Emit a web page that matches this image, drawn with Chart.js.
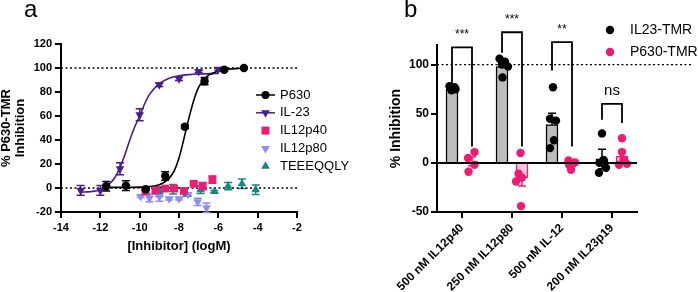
<!DOCTYPE html>
<html>
<head>
<meta charset="utf-8">
<script src="https://cdn.jsdelivr.net/npm/chart.js@4.4.0/dist/chart.umd.min.js"></script>
<style>
  body { margin:0; width:698px; height:292px; background:#fff; position:relative; overflow:hidden; font-family:"Liberation Sans", Arial, sans-serif; }
  .panel { position:absolute; top:0; height:292px; }
  #wrapA { left:0; width:360px; }
  #wrapB { left:370px; width:328px; }
  .tag { position:absolute; top:-5px; font-size:24px; color:#000; z-index:2; }
</style>
</head>
<body>
<div class="panel" id="wrapA"><canvas id="chartA" width="360" height="292"></canvas></div>
<div class="panel" id="wrapB"><canvas id="chartB" width="328" height="292"></canvas></div>
<div class="tag" style="left:24px">a</div>
<div class="tag" style="left:404px">b</div>
<script>
// ---- panel a data ----
const p630X = [-11.7, -10.7, -9.7, -8.7, -7.7, -6.7, -5.7, -4.7];
const p630Y = [1.5, 2, -1, 10, 51, 89, 98.5, 100];
const p630Err = [4, 4, 1, 3.5, 1.5, 3, 1, 0.5];
const p630CurveX = [-11.7, -11, -10, -9.5, -9, -8.75, -8.5, -8.25, -8, -7.75, -7.5, -7.25, -7, -6.75, -6.5, -6, -5.5, -5, -4.7];
const p630CurveY = [0.5, 0.5, 0.7, 1.2, 2.8, 4.8, 8, 14, 25, 41, 58, 73, 84, 90, 94, 97.5, 99, 99.6, 99.8];

const il23X = [-13, -12, -11, -10, -9, -8, -7, -6];
const il23Y = [-2, -2, 16, 61, 86, 91, 97, 99];
const il23Err = [4, 4, 5, 5, 1.5, 1.5, 1, 1];
const il23CurveX = [-13, -12.5, -12, -11.5, -11.25, -11, -10.75, -10.5, -10.25, -10, -9.75, -9.5, -9, -8.5, -8, -7.5, -7, -6];
const il23CurveY = [-3.5, -3, -1.5, 4, 9, 17, 28, 40, 51, 60, 70, 78, 87, 91.5, 93.5, 94.5, 95, 95.5];

const p40X = [-9.7, -9.2, -8.7, -8.25, -7.75, -7.25, -6.8, -6.3];
const p40Y = [-3, -2, -0.5, -0.5, -2.5, 3.5, 1.5, 7];
const p40Err = [2, 3, 1.5, 2, 1.5, 1.5, 3, 3];

const p80X = [-9.95, -9.5, -9.0, -8.5, -8.0, -7.55, -7.05, -6.6];
const p80Y = [-7, -8.5, -7, -9, -9, -5.5, -11.5, -16.5];
const p80Err = [1, 3, 4, 1, 1, 1, 3, 4];

const teX = [-9.0, -8.3, -7.6, -6.9, -6.2, -5.5, -4.8, -4.1];
const teY = [-3, -1, -5.5, -1.5, -3, 1.5, 3.5, -1.5];
const teErr = [4, 4, 1, 3, 1, 3, 4, 4];

// ---- panel b data ----
const categoriesB = ['500 nM IL12p40', '250 nM IL12p80', '500 nM IL-12', '200 nM IL23p19'];
const il23Mean = [75, 98, 39, 4];
const il23Sem = [1.5, 4, 11.5, 10];
const p630Mean = [1.5, -15, -1.5, 7];
const p630Sem = [4.5, 8.5, 2, 5.5];
const il23Points = [[78, 76, 75, 74, 77], [106, 103, 100, 98, 87], [77, 45, 43, 23, 15], [30, 3, 0, -5, -10]];
const il23Jitter = [[-0.05, 0.01, 0.07, -0.01, 0.05], [-0.05, 0.06, 0, 0.12, 0.01], [0.02, -0.04, 0.08, 0.04, -0.04], [0, 0.03, -0.05, 0.08, -0.06]];
const p630Points = [[11, 5, -2, -9], [10, -11, -15, -19, -44], [2.5, 0.5, -2, -7], [25, 11, 3, -2, -1]];
const p630Jitter = [[0.05, -0.08, 0.05, -0.07], [-0.03, -0.07, 0, -0.12, -0.02], [-0.07, 0.06, -0.06, -0.02], [0, 0, 0.03, -0.06, 0.1]];
const groupShift = 0.2;
const bracketTop = [117.6, 133, 123, 60];
const bracketLeftEnd = [80.6, 112, 94, 44];
const bracketRightEnd = [16.6, 16.6, 16.6, 40.5];
const bracketLabels = ['***', '***', '**', 'ns'];

const FONT = "'Liberation Sans', Arial, sans-serif";
Chart.defaults.font.family = FONT;
Chart.defaults.color = '#000';

const PINK = '#F01973';
const PURPLE = '#4B1C8C';
const LILAC = '#8C8CF5';
const TEAL = '#178585';

const pts = (xs, ys) => xs.map((x, i) => ({ x, y: ys[i] }));

function marker(ctx, style, x, y, r) {
  ctx.beginPath();
  if (style === 'circle') {
    ctx.arc(x, y, r, 0, Math.PI * 2);
  } else if (style === 'rect') {
    ctx.rect(x - r, y - r, 2 * r, 2 * r);
  } else if (style === 'up') {
    ctx.moveTo(x, y - r); ctx.lineTo(x + r * 0.87, y + r * 0.5); ctx.lineTo(x - r * 0.87, y + r * 0.5);
  } else {
    ctx.moveTo(x, y + r); ctx.lineTo(x + r * 0.87, y - r * 0.5); ctx.lineTo(x - r * 0.87, y - r * 0.5);
  }
  ctx.closePath();
  ctx.fill();
}

// error bars, drawn before the markers
const errorBars = {
  id: 'errorBars',
  beforeDatasetsDraw(chart) {
    const { ctx } = chart;
    const ys = chart.scales.y;
    chart.data.datasets.forEach((ds, i) => {
      if (!ds.err) return;
      const meta = chart.getDatasetMeta(i);
      ctx.save();
      ctx.strokeStyle = ds.errColor || ds.borderColor;
      ctx.lineWidth = 1.5;
      meta.data.forEach((el, j) => {
        const e = ds.err[j];
        if (!e) return;
        const d = ds.data[j];
        const v = typeof d === 'number' ? d : d.y;
        const top = ys.getPixelForValue(v + e), bot = ys.getPixelForValue(v - e);
        const cap = ds.cap || 4;
        ctx.beginPath();
        ctx.moveTo(el.x, top); ctx.lineTo(el.x, bot);
        ctx.moveTo(el.x - cap, top); ctx.lineTo(el.x + cap, top);
        ctx.moveTo(el.x - cap, bot); ctx.lineTo(el.x + cap, bot);
        ctx.stroke();
      });
      ctx.restore();
    });
  }
};

function dotted(ctx, x1, x2, y) {
  ctx.save();
  ctx.strokeStyle = '#000';
  ctx.lineWidth = 1.3;
  ctx.setLineDash([2, 2.5]);
  ctx.beginPath();
  ctx.moveTo(x1, y); ctx.lineTo(x2, y);
  ctx.stroke();
  ctx.restore();
}

// ---- panel a ----
const refLinesA = {
  id: 'refLinesA',
  beforeDatasetsDraw(chart) {
    const { ctx, chartArea, scales } = chart;
    [0, 100].forEach(v => dotted(ctx, chartArea.left, chartArea.right, scales.y.getPixelForValue(v)));
  }
};

const legendA = {
  id: 'legendA',
  afterDraw(chart) {
    const ctx = chart.ctx;
    ctx.save();
    ctx.font = '13px ' + FONT;
    ctx.textBaseline = 'middle';
    const items = chart.data.datasets.filter(d => d.legendStyle);
    items.forEach((d, i) => {
      const y = 95 + i * 17.8;
      ctx.fillStyle = d.backgroundColor;
      ctx.strokeStyle = d.backgroundColor;
      if (d.legendLine) {
        ctx.lineWidth = 1.5;
        ctx.beginPath(); ctx.moveTo(256, y); ctx.lineTo(275, y); ctx.stroke();
      }
      marker(ctx, d.legendStyle, 265.5, y, d.legendStyle === 'rect' ? 4 : d.legendStyle === 'circle' ? 4 : 5);
      ctx.fillStyle = '#000';
      ctx.fillText(d.label, 280, y);
    });
    ctx.restore();
  }
};

const tickFont = { size: 11, weight: 'bold' };
const titleFont = { size: 13, weight: 'bold', lineHeight: 1.1 };

new Chart(document.getElementById('chartA'), {
  type: 'scatter',
  data: {
    datasets: [
      { label: 'P630', data: pts(p630X, p630Y), err: p630Err, backgroundColor: '#000', borderColor: '#000',
        pointStyle: 'circle', pointRadius: 4.2, borderWidth: 0, order: 1, legendStyle: 'circle', legendLine: true },
      { label: 'IL-23', data: pts(il23X, il23Y), err: il23Err, backgroundColor: PURPLE, borderColor: PURPLE,
        pointStyle: 'triangle', rotation: 180, pointRadius: 5, borderWidth: 0, order: 1, legendStyle: 'down', legendLine: true },
      { label: 'IL12p40', data: pts(p40X, p40Y), err: p40Err, backgroundColor: PINK, borderColor: PINK,
        pointStyle: 'rect', pointRadius: 5.5, borderWidth: 0, order: 1, legendStyle: 'rect' },
      { label: 'IL12p80', data: pts(p80X, p80Y), err: p80Err, backgroundColor: LILAC, borderColor: LILAC,
        pointStyle: 'triangle', rotation: 180, pointRadius: 5, borderWidth: 0, order: 1, legendStyle: 'down' },
      { label: 'TEEEQQLY', data: pts(teX, teY), err: teErr, backgroundColor: TEAL, borderColor: TEAL,
        pointStyle: 'triangle', pointRadius: 5, borderWidth: 0, order: 1, legendStyle: 'up' },
      { label: 'P630 fit', data: pts(p630CurveX, p630CurveY), showLine: true, pointRadius: 0, borderColor: '#000',
        borderWidth: 1.6, cubicInterpolationMode: 'monotone', order: 2 },
      { label: 'IL-23 fit', data: pts(il23CurveX, il23CurveY), showLine: true, pointRadius: 0, borderColor: PURPLE,
        borderWidth: 1.6, cubicInterpolationMode: 'monotone', order: 2 }
    ]
  },
  options: {
    responsive: false,
    animation: false,
    events: [],
    layout: { padding: { left: 0, right: 63, top: 44, bottom: 35 } },
    plugins: { legend: { display: false }, tooltip: { enabled: false } },
    scales: {
      x: {
        type: 'linear', min: -14, max: -2,
        ticks: { stepSize: 2, font: tickFont, padding: 3, color: '#000' },
        grid: { drawOnChartArea: false, tickLength: 6, color: '#000', lineWidth: 2 },
        border: { color: '#000', width: 2 },
        title: { display: true, text: '[Inhibitor] (logM)', font: titleFont, color: '#000', padding: { top: 0, bottom: 3 } },
        afterFit(s) { s.height = 45; }
      },
      y: {
        min: -20, max: 120,
        ticks: { stepSize: 20, font: tickFont, padding: 3, color: '#000' },
        grid: { drawOnChartArea: false, tickLength: 6, color: '#000', lineWidth: 2 },
        border: { color: '#000', width: 2 },
        title: { display: true, text: ['% P630-TMR', 'Inhibition'], font: titleFont, color: '#000', padding: { top: -1, bottom: 0 } },
        afterFit(s) { s.width = 61; }
      }
    }
  },
  plugins: [errorBars, refLinesA, legendA]
});

// ---- panel b ----
const linesB = {
  id: 'linesB',
  beforeDatasetsDraw(chart) {
    const { ctx, chartArea, scales } = chart;
    dotted(ctx, chartArea.left, chart.width - 6, scales.y.getPixelForValue(100));
  },
  afterDatasetsDraw(chart) {
    const { ctx, chartArea, scales } = chart;
    const y0 = scales.y.getPixelForValue(0);
    ctx.save();
    ctx.strokeStyle = '#000';
    ctx.lineWidth = 2;
    ctx.beginPath(); ctx.moveTo(chartArea.left, y0); ctx.lineTo(chartArea.right, y0); ctx.stroke();
    // significance brackets
    const left = chart.getDatasetMeta(0).data, right = chart.getDatasetMeta(1).data;
    ctx.lineWidth = 1.8;
    categoriesB.forEach((c, i) => {
      const xl = left[i].x, xr = right[i].x;
      const yt = scales.y.getPixelForValue(bracketTop[i]);
      ctx.beginPath();
      ctx.moveTo(xl, scales.y.getPixelForValue(bracketLeftEnd[i]));
      ctx.lineTo(xl, yt); ctx.lineTo(xr, yt);
      ctx.lineTo(xr, scales.y.getPixelForValue(bracketRightEnd[i]));
      ctx.stroke();
      ctx.fillStyle = '#000';
      ctx.textAlign = 'center';
      ctx.textBaseline = 'alphabetic';
      ctx.font = bracketLabels[i] === 'ns' ? '15px ' + FONT : '12px ' + FONT;
      ctx.fillText(bracketLabels[i], (xl + xr) / 2, yt - 9);
    });
    ctx.restore();
  }
};

const legendB = {
  id: 'legendB',
  afterDraw(chart) {
    const ctx = chart.ctx;
    ctx.save();
    ctx.font = '14px ' + FONT;
    ctx.textBaseline = 'middle';
    chart.data.datasets.filter(d => d.type === 'scatter').forEach((d, i) => {
      const y = 30 + i * 22;
      ctx.fillStyle = d.backgroundColor;
      marker(ctx, 'circle', 240, y, 4.2);
      ctx.fillStyle = '#000';
      ctx.fillText(d.label, 260, y);
    });
    ctx.restore();
  }
};

const scatterB = (vals, jit, shift) => vals.flatMap((arr, i) => arr.map((v, k) => ({ x: i + shift + jit[i][k], y: v })));
const barsB = (vals, shift) => vals.map((v, i) => ({ x: i + shift, y: v }));
const tickFontB = { size: 12, weight: 'bold' };

new Chart(document.getElementById('chartB'), {
  type: 'bar',
  data: {
    labels: categoriesB,
    datasets: [
      { label: 'IL23-TMR mean', xAxisID: 'x2', data: barsB(il23Mean, -groupShift), err: il23Sem, errColor: '#000', cap: 4,
        backgroundColor: '#BDBDBD', borderColor: '#000', borderWidth: 1.5, barThickness: 12, grouped: false, order: 3 },
      { label: 'P630-TMR mean', xAxisID: 'x2', data: barsB(p630Mean, groupShift), err: p630Sem, errColor: PINK, cap: 4,
        backgroundColor: '#F9C6DA', borderColor: PINK, borderWidth: 1.5, barThickness: 12, grouped: false, order: 3 },
      { type: 'scatter', label: 'IL23-TMR', xAxisID: 'x2', data: scatterB(il23Points, il23Jitter, -groupShift),
        backgroundColor: '#000', borderWidth: 0, pointRadius: 4.2, order: 1 },
      { type: 'scatter', label: 'P630-TMR', xAxisID: 'x2', data: scatterB(p630Points, p630Jitter, groupShift),
        backgroundColor: PINK, borderWidth: 0, pointRadius: 4.2, order: 1 }
    ]
  },
  options: {
    responsive: false,
    animation: false,
    events: [],
    layout: { padding: { left: 0, right: 61, top: 45, bottom: 0 } },
    plugins: { legend: { display: false }, tooltip: { enabled: false } },
    scales: {
      x: {
        type: 'category', offset: true,
        ticks: { font: tickFontB, minRotation: 45, maxRotation: 45, padding: 3, color: '#000', autoSkip: false },
        grid: { offset: false, drawOnChartArea: false, tickLength: 6, color: '#000', lineWidth: 2 },
        border: { color: '#000', width: 2 },
        afterFit(s) { s.height = 80; }
      },
      x2: { type: 'linear', axis: 'x', position: 'bottom', min: -0.5, max: 3.5, offset: false, grid: { offset: false }, display: false },
      y: {
        min: -50, max: 120,
        ticks: { stepSize: 50, includeBounds: false, font: tickFontB, padding: 2, color: '#000' },
        grid: { drawOnChartArea: false, tickLength: 6, color: '#000', lineWidth: 2 },
        border: { color: '#000', width: 2 },
        title: { display: true, text: '% Inhibition', font: { size: 14, weight: 'bold' }, color: '#000', padding: { top: 18, bottom: 0 } },
        afterFit(s) { s.width = 67; }
      }
    }
  },
  plugins: [errorBars, linesB, legendB]
});
</script>
</body>
</html>
